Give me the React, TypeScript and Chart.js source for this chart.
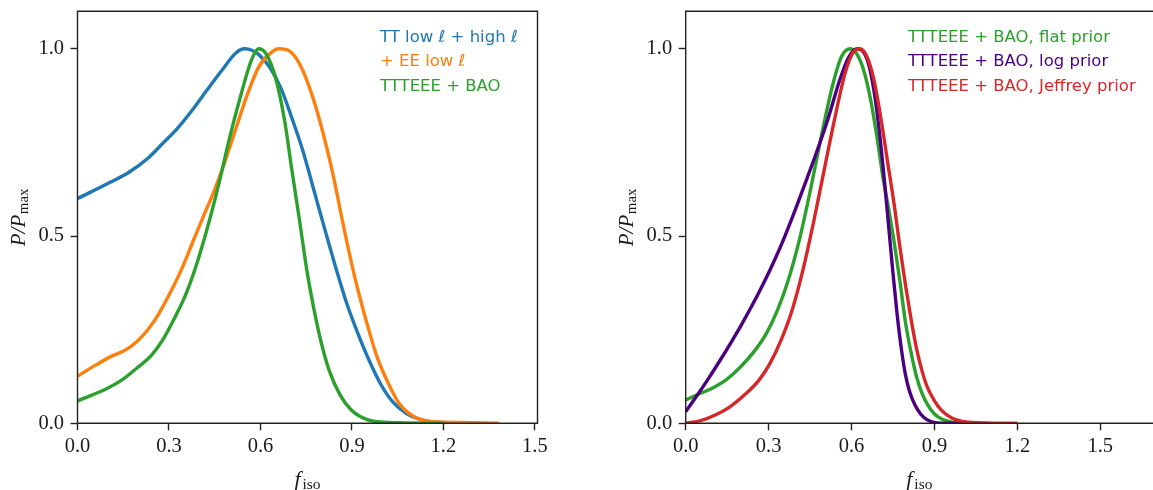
import React, { useEffect, useRef } from "react";
import { Chart, registerables } from "chart.js";
Chart.register(...registerables);

// ---------- data ----------
const xTicks = [0, 0.3, 0.6, 0.9, 1.2, 1.5];
const yTicks = [0, 0.5, 1.0];

// Left panel
const ttX = [0, 0.109, 0.17, 0.23, 0.279, 0.327, 0.376, 0.424, 0.473, 0.521, 0.548, 0.572, 0.594, 0.631, 0.667, 0.703, 0.74, 0.776, 0.812, 0.849, 0.885, 0.922, 0.958, 0.994, 1.031, 1.079, 1.14, 1.2, 1.3];
const ttY = [0.6, 0.644, 0.671, 0.707, 0.747, 0.787, 0.836, 0.889, 0.942, 0.99, 1.0, 0.996, 0.985, 0.95, 0.895, 0.815, 0.725, 0.62, 0.515, 0.41, 0.315, 0.235, 0.165, 0.105, 0.06, 0.026, 0.007, 0.002, 0];

const eeX = [0, 0.061, 0.109, 0.158, 0.194, 0.23, 0.267, 0.303, 0.34, 0.376, 0.412, 0.449, 0.485, 0.521, 0.558, 0.594, 0.631, 0.661, 0.691, 0.728, 0.764, 0.8, 0.837, 0.873, 0.909, 0.946, 0.982, 1.019, 1.055, 1.103, 1.164, 1.261, 1.382];
const eeY = [0.126, 0.156, 0.178, 0.196, 0.218, 0.249, 0.293, 0.347, 0.409, 0.48, 0.551, 0.622, 0.702, 0.791, 0.88, 0.951, 0.987, 1.0, 0.996, 0.96, 0.889, 0.791, 0.667, 0.524, 0.391, 0.276, 0.178, 0.107, 0.053, 0.018, 0.004, 0.002, 0];

const baoX = [0, 0.049, 0.097, 0.146, 0.194, 0.243, 0.279, 0.315, 0.352, 0.388, 0.424, 0.461, 0.497, 0.534, 0.57, 0.594, 0.618, 0.649, 0.679, 0.703, 0.728, 0.752, 0.776, 0.8, 0.825, 0.861, 0.897, 0.946, 1.019, 1.2];
const baoY = [0.06, 0.076, 0.093, 0.116, 0.147, 0.182, 0.222, 0.276, 0.338, 0.418, 0.516, 0.631, 0.756, 0.871, 0.969, 1.0, 0.987, 0.924, 0.809, 0.676, 0.542, 0.409, 0.302, 0.213, 0.142, 0.076, 0.036, 0.011, 0.002, 0];

// Right panel
const flatX = [0, 0.041, 0.094, 0.146, 0.199, 0.252, 0.292, 0.332, 0.371, 0.411, 0.451, 0.49, 0.53, 0.563, 0.596, 0.62, 0.645, 0.67, 0.695, 0.715, 0.735, 0.755, 0.775, 0.795, 0.815, 0.835, 0.855, 0.875, 0.9, 0.93, 0.96, 1.0, 1.05, 1.1];
const flatY = [0.062, 0.076, 0.093, 0.116, 0.151, 0.196, 0.24, 0.302, 0.382, 0.489, 0.622, 0.764, 0.898, 0.978, 1.0, 0.985, 0.94, 0.86, 0.75, 0.65, 0.57, 0.48, 0.38, 0.27, 0.19, 0.125, 0.08, 0.05, 0.025, 0.01, 0.004, 0.001, 0, 0];

const logX = [0, 0.041, 0.081, 0.12, 0.16, 0.2, 0.239, 0.279, 0.318, 0.358, 0.398, 0.437, 0.477, 0.517, 0.557, 0.59, 0.622, 0.645, 0.665, 0.685, 0.705, 0.72, 0.735, 0.75, 0.765, 0.78, 0.795, 0.81, 0.83, 0.85, 0.87, 0.89, 0.91, 0.94, 1.0];
const logY = [0.031, 0.074, 0.118, 0.163, 0.211, 0.261, 0.313, 0.37, 0.43, 0.498, 0.573, 0.65, 0.731, 0.818, 0.916, 0.978, 1.0, 0.99, 0.95, 0.87, 0.75, 0.64, 0.52, 0.4, 0.29, 0.2, 0.13, 0.085, 0.048, 0.025, 0.011, 0.004, 0.001, 0, 0];

const jefX = [0, 0.054, 0.107, 0.16, 0.213, 0.266, 0.305, 0.345, 0.385, 0.424, 0.464, 0.503, 0.543, 0.576, 0.603, 0.629, 0.655, 0.68, 0.705, 0.73, 0.755, 0.775, 0.795, 0.815, 0.835, 0.855, 0.875, 0.9, 0.925, 0.95, 0.98, 1.02, 1.07, 1.12, 1.2];
const jefY = [0, 0.007, 0.022, 0.044, 0.076, 0.116, 0.16, 0.222, 0.302, 0.409, 0.542, 0.684, 0.827, 0.933, 0.987, 1.0, 0.98, 0.92, 0.82, 0.7, 0.58, 0.47, 0.37, 0.28, 0.2, 0.14, 0.095, 0.06, 0.035, 0.02, 0.009, 0.003, 0.001, 0, 0];

const leftLabels = ["TT low \u2113 + high \u2113", "+ EE low \u2113", "TTTEEE + BAO"];
const rightLabels = ["TTTEEE + BAO, flat prior", "TTTEEE + BAO, log prior", "TTTEEE + BAO, Jeffrey prior"];

const BLUE = "#1f77b4";
const ORANGE = "#ff7f0e";
const GREEN = "#2ca02c";
const INDIGO = "#4b0082";
const RED = "#d62728";

// ---------- helpers ----------
const INK = "#1a1a1a";
const TICK_FONT = { family: "'Liberation Serif', serif", size: 20.5 };

type Part = { t: string; font: string; dy: number; gap?: number };

function drawParts(ctx: CanvasRenderingContext2D, parts: Part[], cx: number, by: number) {
  let total = 0;
  parts.forEach((p) => {
    ctx.font = p.font;
    total += ctx.measureText(p.t).width + (p.gap || 0);
  });
  let x = cx - total / 2;
  parts.forEach((p) => {
    ctx.font = p.font;
    ctx.fillText(p.t, x, by + p.dy);
    x += ctx.measureText(p.t).width + (p.gap || 0);
  });
}

type PanelCfg = {
  width: number;
  plotLeft: number;
  plotRight: number;
  xMax: number;
  rightSpine: boolean;
  series: { xs: number[]; ys: number[]; color: string }[];
  labels: string[];
  legendX: number;
};

const TOP = 11.3;
const BOTTOM = 423.3;
const H = 490;

function makeConfig(cfg: PanelCfg): any {
  const frame = {
    id: "frame",
    afterDraw(chart: any) {
      const { ctx, chartArea: a } = chart;
      ctx.save();
      ctx.strokeStyle = "#222";
      ctx.lineWidth = 1.4;
      ctx.beginPath();
      ctx.moveTo(a.left, a.bottom);
      ctx.lineTo(a.left, a.top);
      ctx.lineTo(a.right + (cfg.rightSpine ? 0 : 2), a.top);
      if (cfg.rightSpine) {
        ctx.lineTo(a.right, a.bottom);
        ctx.lineTo(a.left, a.bottom);
      } else {
        ctx.moveTo(a.right + 2, a.bottom);
        ctx.lineTo(a.left, a.bottom);
      }
      ctx.stroke();

      // legend (text only)
      ctx.font = "16.5px 'DejaVu Sans', sans-serif";
      ctx.textAlign = "left";
      ctx.textBaseline = "alphabetic";
      const ys = [41.5, 66, 90.5];
      cfg.labels.forEach((t, i) => {
        ctx.fillStyle = cfg.series[i].color;
        ctx.fillText(t, cfg.legendX, ys[i]);
      });

      // axis titles
      ctx.fillStyle = INK;
      ctx.textAlign = "left";
      const cx = (a.left + a.right) / 2;
      drawParts(
        ctx,
        [
          { t: "f", font: "italic 22px 'Liberation Serif', serif", dy: 0, gap: 2 },
          { t: "iso", font: "15.5px 'Liberation Serif', serif", dy: 3 },
        ],
        cx,
        486
      );
      ctx.save();
      ctx.translate(a.left - 52.5, (a.top + a.bottom) / 2);
      ctx.rotate(-Math.PI / 2);
      drawParts(
        ctx,
        [
          { t: "P/P", font: "italic 21px 'Liberation Serif', serif", dy: 0, gap: 0.5 },
          { t: "max", font: "15px 'Liberation Serif', serif", dy: 3 },
        ],
        0,
        0
      );
      ctx.restore();
      ctx.restore();
    },
  };

  const n = cfg.series.length;
  return {
    type: "line",
    data: {
      datasets: cfg.series.map((s, i) => ({
        data: s.xs.map((x, j) => ({ x, y: s.ys[j] })),
        borderColor: s.color,
        backgroundColor: s.color,
        borderWidth: 3.4,
        pointRadius: 0,
        fill: false,
        cubicInterpolationMode: "monotone",
        order: n - i,
      })),
    },
    options: {
      responsive: false,
      animation: false,
      events: [],
      layout: {
        autoPadding: false,
        padding: { left: 0, top: TOP, right: cfg.width - cfg.plotRight, bottom: 0 },
      },
      plugins: { legend: { display: false }, tooltip: { enabled: false } },
      scales: {
        x: {
          type: "linear",
          min: 0,
          max: cfg.xMax,
          afterBuildTicks: (axis: any) => {
            axis.ticks = xTicks.map((v) => ({ value: v }));
          },
          afterFit: (s: any) => {
            s.height = H - BOTTOM;
            s.paddingLeft = 0;
            s.paddingRight = 0;
            s.paddingTop = 0;
            s.paddingBottom = 0;
          },
          grid: {
            display: true,
            drawOnChartArea: false,
            drawTicks: true,
            tickLength: 7,
            tickWidth: 1.4,
            tickColor: "#222",
          },
          border: { display: false },
          ticks: {
            color: INK,
            font: TICK_FONT,
            padding: 4,
            maxRotation: 0,
            autoSkip: false,
            callback: (v: any) => Number(v).toFixed(1),
          },
        },
        y: {
          type: "linear",
          min: 0,
          max: 1.1,
          afterBuildTicks: (axis: any) => {
            axis.ticks = yTicks.map((v) => ({ value: v }));
          },
          afterFit: (s: any) => {
            s.width = cfg.plotLeft;
            s.paddingLeft = 0;
            s.paddingRight = 0;
            s.paddingTop = 0;
            s.paddingBottom = 0;
          },
          grid: {
            display: true,
            drawOnChartArea: false,
            drawTicks: true,
            tickLength: 7,
            tickWidth: 1.4,
            tickColor: "#222",
          },
          border: { display: false },
          ticks: {
            color: INK,
            font: TICK_FONT,
            padding: 6.5,
            autoSkip: false,
            callback: (v: any) => Number(v).toFixed(1),
          },
        },
      },
    },
    plugins: [frame],
  };
}

export default function App() {
  const lRef = useRef<HTMLCanvasElement>(null);
  const rRef = useRef<HTMLCanvasElement>(null);

  useEffect(() => {
    const left = new Chart(
      lRef.current as HTMLCanvasElement,
      makeConfig({
        width: 580,
        plotLeft: 77.5,
        plotRight: 537.5,
        xMax: 1.5085,
        rightSpine: true,
        series: [
          { xs: ttX, ys: ttY, color: BLUE },
          { xs: eeX, ys: eeY, color: ORANGE },
          { xs: baoX, ys: baoY, color: GREEN },
        ],
        labels: leftLabels,
        legendX: 380,
      })
    );
    const right = new Chart(
      rRef.current as HTMLCanvasElement,
      makeConfig({
        width: 573,
        plotLeft: 105.7,
        plotRight: 573,
        xMax: 1.6907,
        rightSpine: false,
        series: [
          { xs: flatX, ys: flatY, color: GREEN },
          { xs: logX, ys: logY, color: INDIGO },
          { xs: jefX, ys: jefY, color: RED },
        ],
        labels: rightLabels,
        legendX: 328,
      })
    );
    return () => {
      left.destroy();
      right.destroy();
    };
  }, []);

  return (
    <div
      style={{
        position: "absolute",
        left: 0,
        top: 0,
        width: 1153,
        height: 490,
        background: "#ffffff",
        overflow: "hidden",
      }}
    >
      <canvas
        ref={lRef}
        width={580}
        height={490}
        style={{ position: "absolute", left: 0, top: 0, width: 580, height: 490 }}
      />
      <canvas
        ref={rRef}
        width={573}
        height={490}
        style={{ position: "absolute", left: 580, top: 0, width: 573, height: 490 }}
      />
    </div>
  );
}
